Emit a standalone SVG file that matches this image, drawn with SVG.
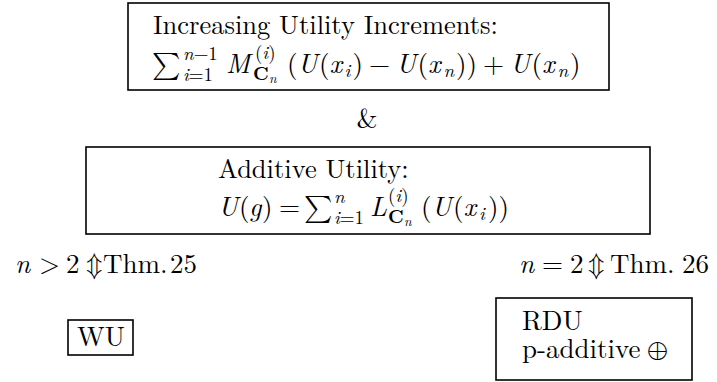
<svg xmlns="http://www.w3.org/2000/svg" width="717" height="382" viewBox="0 0 717 382">
<style>
.t{font-size:27px;fill:#000}
.x{font-size:26.5px}
.i{font-style:italic}
.s{font-size:18.9px}
.ss{font-size:13.5px}
.b{font-weight:bold}
.box{fill:none;stroke:#000;stroke-width:1.6}
</style>
<rect width="717" height="382" fill="#fff"/>
<g id="connectors"/>
<g font-family="Latin Modern Roman, Liberation Serif, serif">
<g id="increments">
<rect class="box" x="128" y="3" width="481" height="87"/>
<text class="t x" x="153" y="34">Increasing Utility Increments:</text>
<text class="t" x="152" y="73" font-family="Latin Modern Math, DejaVu Serif, serif">∑</text>
<text class="t s" x="183" y="60"><tspan class="i">n</tspan><tspan font-family="Latin Modern Math, DejaVu Serif, serif">−</tspan>1</text>
<text class="t s" x="183" y="81"><tspan class="i">i</tspan>=1</text>
<text class="t i" x="226" y="73">M</text>
<text class="t s" x="255" y="59">(<tspan class="i">i</tspan>)</text>
<text class="t s b" x="253" y="80">C</text>
<text class="t ss i" x="269" y="83">n</text>
<text class="t" x="287" y="73">(</text>
<text class="t i" x="297.5" y="73">U</text>
<text class="t" x="319" y="73">(</text>
<text class="t i" x="329.5" y="73">x</text>
<text class="t s i" x="344.5" y="77">i</text>
<text class="t" x="352.5" y="73">)</text>
<text class="t" x="369" y="73" font-family="Latin Modern Math, DejaVu Serif, serif">−</text>
<text class="t i" x="396" y="73">U</text>
<text class="t" x="417.5" y="73">(</text>
<text class="t i" x="428" y="73">x</text>
<text class="t s i" x="443.5" y="77">n</text>
<text class="t" x="456" y="73">))</text>
<text class="t" x="483" y="73">+</text>
<text class="t i" x="510" y="73">U</text>
<text class="t" x="531.5" y="73">(</text>
<text class="t i" x="542" y="73">x</text>
<text class="t s i" x="557.5" y="77">n</text>
<text class="t" x="570" y="73">)</text>
</g>
<g id="and">
<text class="t" x="367" y="128" text-anchor="middle">&amp;</text>
</g>
<g id="additive">
<rect class="box" x="86" y="147" width="564" height="87"/>
<text class="t x" x="218" y="178">Additive Utility:</text>
<text class="t i" x="218" y="216">U</text>
<text class="t" x="239" y="216">(</text>
<text class="t i" x="249" y="216">g</text>
<text class="t" x="262" y="216">)</text>
<text class="t" x="279" y="216">=</text>
<text class="t" x="304" y="216" font-family="Latin Modern Math, DejaVu Serif, serif">∑</text>
<text class="t s i" x="334" y="203">n</text>
<text class="t s" x="334" y="224"><tspan class="i">i</tspan>=1</text>
<text class="t i" x="370" y="216">L</text>
<text class="t s" x="388" y="202">(<tspan class="i">i</tspan>)</text>
<text class="t s b" x="388" y="223">C</text>
<text class="t ss i" x="404" y="226">n</text>
<text class="t" x="421" y="216">(</text>
<text class="t i" x="431.5" y="216">U</text>
<text class="t" x="453" y="216">(</text>
<text class="t i" x="463.5" y="216">x</text>
<text class="t s i" x="479" y="220">i</text>
<text class="t" x="488" y="216">))</text>
</g>
<g id="cond-left">
<text class="t i" x="15" y="273">n</text>
<text class="t" x="39" y="273">&gt;</text>
<text class="t" x="66" y="273">2</text>
<text class="t" x="86" y="273" font-family="Latin Modern Math, DejaVu Serif, serif">⇕</text>
<text class="t" x="103" y="273">Thm.</text>
<text class="t" x="170" y="273">25</text>
</g>
<g id="cond-right">
<text class="t i" x="519" y="273">n</text>
<text class="t" x="542" y="273">=</text>
<text class="t" x="570" y="273">2</text>
<text class="t" x="588" y="273" font-family="Latin Modern Math, DejaVu Serif, serif">⇕</text>
<text class="t" x="610" y="273">Thm.</text>
<text class="t" x="682" y="273">26</text>
</g>
<g id="wu">
<rect class="box" x="68" y="320" width="65" height="35"/>
<text class="t" x="77" y="346">WU</text>
</g>
<g id="rdu">
<rect class="box" x="496" y="298" width="196" height="82"/>
<text class="t" x="522" y="330">RDU</text>
<text class="t" x="522" y="358">p-additive</text>
<text class="t" x="647" y="358" font-family="Latin Modern Math, DejaVu Serif, serif">⊕</text>
</g>
</g>
</svg>
